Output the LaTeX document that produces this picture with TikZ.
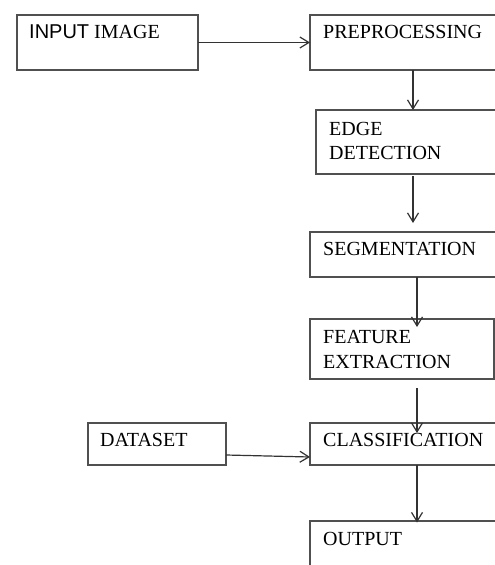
\documentclass[tikz,border=0pt]{standalone}
\usepackage{fontspec}
\setmainfont{Liberation Serif}
\newfontfamily\arialfont{Liberation Sans}
\usetikzlibrary{arrows.meta,calc}
\definecolor{boxgray}{HTML}{505050}
\definecolor{arrgray}{HTML}{333333}
\begin{document}
\begin{tikzpicture}[x=1pt,y=-1pt,
  box/.style={draw=boxgray, line width=1.2pt, anchor=north west, inner sep=0pt, outer sep=0pt},
  lbl/.style={anchor=north west, inner sep=0pt, align=left, font=\fontsize{20}{24.5}\selectfont, text=black},
  arr/.style={draw=arrgray, line width=1.2pt, -{Straight Barb[length=9pt,width=11pt,line width=1.2pt]}}]
\useasboundingbox[fill=white] (0,0) rectangle (495,565);
% boxes
\node[box, minimum width=181pt, minimum height=55pt] (inp) at (17,15) {};
\node[box, minimum width=190pt, minimum height=55pt] (pre) at (310,15) {};
\node[box, minimum width=184pt, minimum height=64pt] (edge) at (316,110) {};
\node[box, minimum width=190pt, minimum height=45pt] (seg) at (310,232) {};
\node[box, minimum width=184pt, minimum height=60pt] (feat) at (310,319) {};
\node[box, minimum width=138pt, minimum height=42pt] (data) at (88,423) {};
\node[box, minimum width=190pt, minimum height=42pt] (cls) at (310,423) {};
\node[box, minimum width=190pt, minimum height=60pt] (out) at (310,521) {};
% texts
\node[lbl] (inpT) at ($(inp.north west)+(12,10)$) {{\arialfont INPUT} IMAGE};
\node[lbl] (preT) at ($(pre.north west)+(13,10)$) {PREPROCESSING};
\node[lbl] (edgeT) at ($(edge.north west)+(13,12)$) {EDGE\\DETECTION};
\node[lbl] (segT) at ($(seg.north west)+(13,10)$) {SEGMENTATION};
\node[lbl] (featT) at ($(feat.north west)+(13,11.5)$) {FEATURE\\EXTRACTION};
\node[lbl] (dataT) at ($(data.north west)+(12,10)$) {DATASET};
\node[lbl] (clsT) at ($(cls.north west)+(13,10)$) {CLASSIFICATION};
\node[lbl] (outT) at ($(out.north west)+(13,11.5)$) {OUTPUT};
% arrows
\coordinate (c1) at (413,0);
\coordinate (c2) at (417,0);
\draw[arr] (inp.east) -- (pre.west);
\draw[arr] (pre.south -| c1) -- (edge.north -| c1);
\draw[arr, shorten <=2pt, shorten >=9pt] (edge.south -| c1) -- (seg.north -| c1);
\draw[arr, shorten >=-8pt] (seg.south -| c2) -- (feat.north -| c2);
\draw[arr, shorten <=9pt, shorten >=-10pt] (feat.south -| c2) -- (cls.north -| c2);
\draw[arr] ($(data.south east)+(0,-10)$) -- ($(cls.south west)+(0,-8)$);
\draw[arr, shorten >=-1.5pt] (cls.south -| c2) -- (out.north -| c2);
\end{tikzpicture}
\end{document}
